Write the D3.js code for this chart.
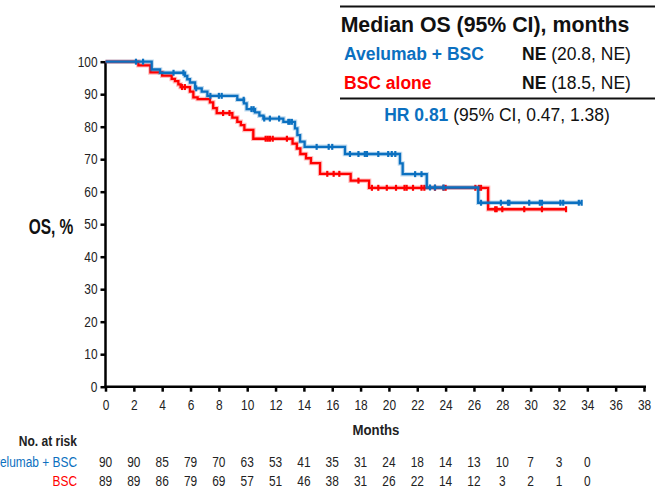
<!DOCTYPE html>
<html>
<head>
<meta charset="utf-8">
<script src="https://cdn.jsdelivr.net/npm/d3@7"></script>
<style>
  html, body { margin: 0; padding: 0; background: #fff; }
  svg { display: block; font-family: "Liberation Sans", Arial, sans-serif; }
</style>
</head>
<body>
<svg id="chart" width="657" height="488"></svg>
<script>
// Kaplan–Meier overall survival: Avelumab + BSC vs BSC alone

const monthTicks = d3.range(0, 39, 2);
const pctTicks = d3.range(0, 101, 10);

// Avelumab + BSC: event times (months) and survival (%) after each event
const aveEventTimes = [0, 3.26, 3.85, 5.61, 5.77, 5.96, 6.32, 6.79, 7.19, 9.3, 9.77, 9.96, 10.55, 10.86, 11.14,
  12.55, 13.37, 13.54, 13.73, 14.05, 16.9, 20.78, 20.97, 22.67, 26.3];
const aveSurv = [100, 97.6, 96.6, 95.6, 94.6, 93.6, 91.8, 90.8, 89.5, 88.3, 87.2, 85.4, 84.4, 83.4, 82.5,
  81.5, 79.5, 77.4, 75.4, 73.8, 71.6, 68.7, 65.4, 61.3, 56.6];
const aveCensor = [2.15, 2.65, 4.8, 5.5, 6.4, 7.4, 8.0, 8.2, 9.75, 10.3, 10.45, 11.2, 11.6, 12.25, 12.9, 13.0,
  13.15, 14.9, 15.75, 16.0, 17.25, 17.85, 18.3, 18.45, 19.25, 19.95, 20.2, 20.45, 21.85, 22.3, 22.9, 23.25,
  23.85, 26.5, 27.9, 28.4, 28.5, 29.9, 30.65, 30.8, 32.1, 32.3, 33.4, 33.6];

// BSC alone
const bscEventTimes = [0, 2.32, 3.17, 4.0, 4.67, 4.9, 5.14, 5.3, 5.96, 6.2, 6.5, 7.37, 7.6, 7.85, 8.95, 9.3,
  9.55, 9.8, 10.43, 13.2, 13.5, 13.75, 14.15, 14.5, 15.14, 17.3, 18.6, 27.0];
const bscSurv = [100, 98.9, 96.7, 95.7, 94.7, 94.0, 93.0, 92.2, 90.8, 89.0, 88.5, 87.5, 85.7, 84.2, 82.8, 81.5,
  80.5, 79.0, 76.3, 74.8, 73.3, 71.6, 70.3, 68.8, 65.5, 63.4, 61.2, 54.6];
const bscCensor = [5.4, 5.6, 8.3, 8.75, 11.3, 11.45, 11.6, 11.8, 12.8, 15.65, 16.1, 16.5, 17.85, 18.8, 19.25,
  19.85, 20.5, 21.1, 21.25, 21.7, 22.3, 22.5, 23.25, 23.85, 24.0, 26.1, 26.35, 26.5, 27.5, 27.6, 28.0,
  29.55, 30.8, 32.5];

// Numbers at risk
const riskTimes = d3.range(0, 35, 2);
const aveRisk = [90, 90, 85, 79, 70, 63, 53, 41, 35, 31, 24, 18, 14, 13, 10, 7, 3, 0];
const bscRisk = [89, 89, 86, 79, 69, 57, 51, 46, 38, 31, 26, 22, 14, 12, 3, 2, 1, 0];

const BLUE = "#0b70c0";
const RED = "#ff0000";

const svg = d3.select("#chart");

// squeeze text horizontally to a narrow face
function condense(sel, k) {
  sel.each(function () {
    const w = this.getComputedTextLength();
    this.setAttribute("textLength", (w * k).toFixed(2));
    this.setAttribute("lengthAdjust", "spacingAndGlyphs");
  });
  return sel;
}

const x = d3.scaleLinear().domain([0, 38]).range([105.5, 644]);
const y = d3.scaleLinear().domain([0, 100]).range([386.7, 61.7]);

// ---- axes ----
const yAxis = svg.append("g")
  .attr("transform", `translate(${x(0)},0)`)
  .call(d3.axisLeft(y).tickValues(pctTicks).tickSize(5).tickPadding(3));
yAxis.select(".domain").attr("stroke", "#000").attr("stroke-width", 2.5)
  .attr("d", `M0,${y(0) + 1}V${y(100)}`);
yAxis.selectAll(".tick line").attr("stroke", "#000").attr("stroke-width", 2.5);
condense(yAxis.selectAll(".tick text").attr("font-size", 14).attr("fill", "#222")
  .attr("font-family", "Liberation Sans, Arial, sans-serif"), 0.85);

const xAxis = svg.append("g")
  .attr("transform", `translate(0,${y(0)})`)
  .call(d3.axisBottom(x).tickValues(monthTicks).tickSize(5).tickPadding(8));
xAxis.select(".domain").attr("stroke", "#000").attr("stroke-width", 2.5)
  .attr("d", `M${x(0) - 1},0H${x(38) + 2}`);
xAxis.selectAll(".tick line").attr("stroke", "#000").attr("stroke-width", 2.5);
condense(xAxis.selectAll(".tick text").attr("font-size", 14).attr("fill", "#222")
  .attr("font-family", "Liberation Sans, Arial, sans-serif"), 0.85);

condense(svg.append("text").attr("x", 376).attr("y", 435).attr("text-anchor", "middle")
  .attr("font-size", 15).attr("font-weight", "bold").attr("fill", "#222").text("Months"), 0.88);

condense(svg.append("text").attr("x", 51).attr("y", 234).attr("text-anchor", "middle")
  .attr("font-size", 21.5).attr("font-weight", "bold").attr("fill", "#111").text("OS, %"), 0.72);

// ---- survival curves ----
function steps(times, surv, endTime) {
  const pts = times.map((t, i) => [t, surv[i]]);
  pts.push([endTime, surv[surv.length - 1]]);
  return pts;
}
function survAt(times, surv, t) {
  const i = d3.bisectRight(times, t) - 1;
  return surv[Math.max(0, i)];
}
const line = d3.line().x(d => x(d[0])).y(d => y(d[1])).curve(d3.curveStepAfter);

const groups = [
  { times: bscEventTimes, surv: bscSurv, censor: bscCensor, color: RED },
  { times: aveEventTimes, surv: aveSurv, censor: aveCensor, color: BLUE }
];

groups.forEach(g => {
  const end = d3.max(g.censor);
  const pts = steps(g.times, g.surv, end);
  // soft halo beneath the line
  svg.append("path").attr("d", line(pts)).attr("fill", "none")
    .attr("stroke", g.color).attr("stroke-opacity", 0.25).attr("stroke-width", 4.5);
  svg.append("path").attr("d", line(pts)).attr("fill", "none")
    .attr("stroke", g.color).attr("stroke-width", 2.3);
  svg.append("g").selectAll("line").data(g.censor).join("line")
    .attr("x1", d => x(d)).attr("x2", d => x(d))
    .attr("y1", d => y(survAt(g.times, g.surv, d)) - 3)
    .attr("y2", d => y(survAt(g.times, g.surv, d)) + 3)
    .attr("stroke", g.color).attr("stroke-width", 2.2);
});

// ---- median OS summary box ----
const box = svg.append("g");
box.append("line").attr("x1", 340).attr("x2", 655).attr("y1", 6.5).attr("y2", 6.5)
  .attr("stroke", "#111").attr("stroke-width", 2);
box.append("line").attr("x1", 340).attr("x2", 655).attr("y1", 98.5).attr("y2", 98.5)
  .attr("stroke", "#111").attr("stroke-width", 2);
box.append("text").attr("x", 485).attr("y", 31.5).attr("text-anchor", "middle")
  .attr("font-size", 21.3).attr("font-weight", "bold").attr("fill", "#111")
  .text("Median OS (95% CI), months");

const rows = [
  { label: "Avelumab + BSC", median: "NE", ci: " (20.8, NE)", color: BLUE, yy: 60 },
  { label: "BSC alone", median: "NE", ci: " (18.5, NE)", color: RED, yy: 89 }
];
rows.forEach(r => {
  box.append("text").attr("x", 344).attr("y", r.yy).attr("font-size", 17.5)
    .attr("font-weight", "bold").attr("fill", r.color).text(r.label);
  const t = box.append("text").attr("x", 522).attr("y", r.yy).attr("font-size", 17.5).attr("fill", "#111");
  t.append("tspan").attr("font-weight", "bold").text(r.median);
  t.append("tspan").text(r.ci);
});
const hr = box.append("text").attr("x", 497).attr("y", 120.5).attr("text-anchor", "middle")
  .attr("font-size", 17.5).attr("fill", "#111");
hr.append("tspan").attr("font-weight", "bold").attr("fill", BLUE).text("HR 0.81");
hr.append("tspan").text(" (95% CI, 0.47, 1.38)");

// ---- numbers at risk ----
condense(svg.append("text").attr("x", 77).attr("y", 446).attr("text-anchor", "end")
  .attr("font-size", 14).attr("font-weight", "bold").attr("fill", "#222").text("No. at risk"), 0.86);
condense(svg.append("text").attr("x", 77).attr("y", 466.5).attr("text-anchor", "end")
  .attr("font-size", 14).attr("fill", BLUE).text("Avelumab + BSC"), 0.85);
condense(svg.append("text").attr("x", 77).attr("y", 486).attr("text-anchor", "end")
  .attr("font-size", 14).attr("fill", RED).text("BSC"), 0.85);

[[aveRisk, 466.5], [bscRisk, 486]].forEach(([vals, yy]) => {
  condense(svg.append("g").selectAll("text").data(vals).join("text")
    .attr("x", (d, i) => x(riskTimes[i])).attr("y", yy).attr("text-anchor", "middle")
    .attr("font-size", 14).attr("fill", "#222").text(d => d), 0.85);
});
</script>
</body>
</html>
